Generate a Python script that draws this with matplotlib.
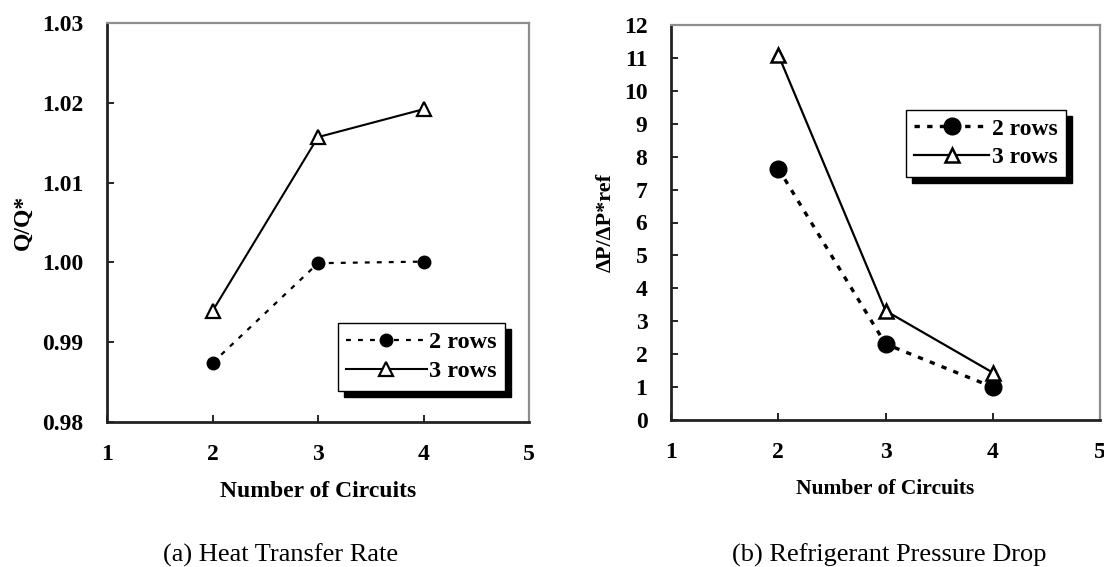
import matplotlib
matplotlib.use("Agg")
import matplotlib.pyplot as plt
import matplotlib.ticker as ticker

# number of circuits
circuits = [2, 3, 4]

# (a) heat transfer rate, Q/Q*
q_2rows = [0.9874, 0.9999, 1.0001]
q_3rows = [0.9939, 1.0157, 1.0192]

# (b) refrigerant pressure drop, dP/dP*ref
dp_2rows = [7.64, 2.31, 1.00]
dp_3rows = [11.10, 3.32, 1.44]

serif = ['Liberation Serif', 'DejaVu Serif']
matplotlib.rc('font', family=serif, weight='bold', size=17)

W, H = 1104, 567
fig = plt.figure(figsize=(W / 100, H / 100), dpi=100)


def frac(x0, y0, x1, y1):
    return [x0 / W, 1 - y1 / H, (x1 - x0) / W, (y1 - y0) / H]


def style_axes(ax):
    for side in ['left', 'bottom']:
        ax.spines[side].set_color('#222222')
        ax.spines[side].set_linewidth(2.0)
    for side in ['top', 'right']:
        ax.spines[side].set_color('#8c8c8c')
        ax.spines[side].set_linewidth(1.6)
    ax.set_xlim(1, 5)
    ax.set_xticks([1, 2, 3, 4, 5])
    ax.tick_params(axis='x', direction='in', length=5, width=1.2, pad=15.5, labelsize=17)
    ax.tick_params(axis='y', direction='in', length=5, width=1.2, pad=17, labelsize=17)


def add_legend(ax, bbox, fs, hl, shadow_off):
    leg = ax.legend(loc='upper left', bbox_to_anchor=bbox, fontsize=fs,
                    frameon=True, fancybox=False, framealpha=1,
                    edgecolor='black', handlelength=hl, handletextpad=0.1,
                    borderpad=0.35, labelspacing=0.3, borderaxespad=0,
                    shadow={'ox': shadow_off, 'oy': -shadow_off,
                            'color': 'black', 'alpha': 1})
    leg.get_frame().set_linewidth(1.0)
    return leg


# ---- (a) Heat Transfer Rate ----
ax1 = fig.add_axes(frac(107, 23, 529, 422))
ax1.plot(circuits, q_2rows, color='black', linestyle=(0, (2.2, 3.2)), linewidth=1.6,
         marker='o', markersize=9, markerfacecolor='black', label='2 rows')
ax1.plot(circuits, q_3rows, color='black', linestyle='-', linewidth=1.5,
         marker='^', markersize=9.5, markerfacecolor='white', markeredgewidth=1.6,
         label='3 rows')
ax1.set_ylim(0.98, 1.03)
ax1.set_yticks([0.98, 0.99, 1.00, 1.01, 1.02, 1.03])
ax1.yaxis.set_major_formatter(ticker.FormatStrFormatter('%.2f'))
style_axes(ax1)
ax1.set_ylabel('Q/Q*', fontsize=17, fontweight='bold', labelpad=6)
ax1.set_xlabel('Number of Circuits', fontsize=17, fontweight='bold', labelpad=12)
add_legend(ax1, (0.547, 0.249), 17.5, 3.3, 4.5)

# ---- (b) Refrigerant Pressure Drop ----
ax2 = fig.add_axes(frac(671, 25, 1100, 420))
ax2.plot(circuits, dp_2rows, color='black', linestyle=(0, (1.6, 2.2)), linewidth=2.4,
         marker='o', markersize=12, markerfacecolor='black', label='2 rows')
ax2.plot(circuits, dp_3rows, color='black', linestyle='-', linewidth=1.6,
         marker='^', markersize=10.5, markerfacecolor='white', markeredgewidth=1.8,
         label='3 rows')
ax2.set_ylim(0, 12)
ax2.set_yticks(range(0, 13))
style_axes(ax2)
ax2.set_ylabel('ΔP/ΔP*ref', fontsize=16, fontweight='bold', labelpad=6)
ax2.set_xlabel('Number of Circuits', fontsize=15.5, fontweight='bold', labelpad=12)
add_legend(ax2, (0.547, 0.785), 17, 3.2, 4.5)

# captions under each panel
fig.text(281 / W, 1 - 555 / H, '(a) Heat Transfer Rate', ha='center', va='center',
         fontsize=19, fontweight='normal', family=serif)
fig.text(889 / W, 1 - 555 / H, '(b) Refrigerant Pressure Drop', ha='center', va='center',
         fontsize=19, fontweight='normal', family=serif)

fig.savefig('out.png', dpi=100)
